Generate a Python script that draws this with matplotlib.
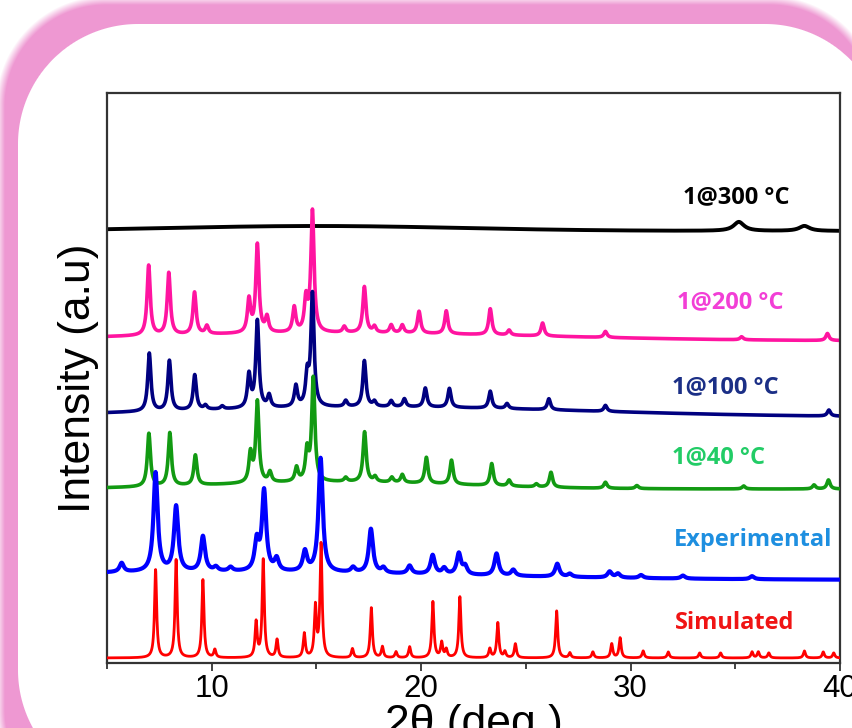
import numpy as np
import matplotlib.pyplot as plt

# 2theta range of the scans
x_min, x_max = 5, 40

# peak positions (deg) and heights above baseline (a.u.) for each pattern
sim_pos = [7.32, 8.30, 9.58, 10.15, 12.12, 12.46, 13.12, 14.42, 14.95, 15.22, 16.72, 17.62, 18.15, 18.8,
           19.45, 20.56, 20.98, 21.2, 21.85, 23.28, 23.66, 24.0, 24.5, 26.47, 27.1, 28.2, 29.1, 29.5,
           30.6, 31.8, 33.3, 34.3, 35.8, 36.1, 36.6, 38.3, 39.2, 39.7]
sim_height = [88, 98, 78, 8, 35, 98, 18, 24, 50, 113, 9, 50, 11, 6,
              11, 56, 15, 8, 61, 9, 35, 6, 14, 47, 5, 6, 14, 20,
              7, 6, 5, 5, 6, 6, 5, 7, 6, 5]

exp_pos = [5.7, 7.32, 8.30, 9.58, 10.2, 10.9, 12.15, 12.5, 13.1, 14.45, 15.2, 16.75, 17.6, 18.2,
           19.45, 20.55, 21.1, 21.8, 22.1, 23.6, 24.4, 26.5, 27.1, 29.0, 29.4, 30.5, 32.5, 35.8]
exp_height = [9, 99, 65, 35, 4, 4, 29, 80, 12, 20, 114, 5, 44, 5,
              8, 19, 6, 21, 8, 22, 6, 13, 3, 6, 4, 3, 3, 3]

t40_pos = [7.0, 8.0, 9.22, 11.85, 12.18, 12.78, 14.05, 14.55, 14.85, 16.4, 17.3, 17.8, 18.6,
           19.1, 20.25, 21.45, 23.37, 24.2, 25.5, 26.2, 28.8, 30.3, 35.4, 38.76, 39.45]
t40_height = [53, 53, 30, 29, 81, 10, 14, 30, 103, 4, 50, 5, 5,
              8, 26, 24, 22, 6, 3, 15, 6, 3, 3, 4, 9]

t100_pos = [7.02, 7.98, 9.19, 9.7, 10.5, 11.78, 12.18, 12.74, 14.02, 14.56, 14.81, 16.4, 17.29, 17.77,
            18.57, 19.2, 20.2, 21.35, 23.3, 24.1, 26.1, 28.8, 39.47]
t100_height = [58, 50, 35, 4, 3, 33, 87, 12, 21, 30, 112, 6, 46, 5,
               6, 8, 19, 19, 17, 5, 11, 6, 6]

t200_pos = [6.99, 7.95, 9.18, 9.77, 11.78, 12.18, 12.64, 13.94, 14.5, 14.81, 16.33, 17.29, 17.77,
            18.57, 19.1, 19.9, 21.2, 23.3, 24.2, 25.8, 28.8, 35.3, 39.4]
t200_height = [70, 62, 42, 8, 33, 88, 15, 25, 32, 121, 6, 46, 6,
               8, 8, 22, 23, 26, 5, 13, 6, 3, 7]

t300_pos = [35.17, 38.3]
t300_height = [9, 5]

# baseline level and broad background hump (centre, height, sigma) of each pattern
baselines = [5, 83, 174, 246, 322, 432]
hump_center = [20, 10, 16, 18, 16, 15]
hump_height = [0, 8, 7, 10, 8, 5]
hump_sigma = [5, 12, 6, 10, 10, 7]
peak_hwhm = [0.06, 0.12, 0.09, 0.09, 0.09, 0.3]

names = ["Simulated", "Experimental", "1@40 °C", "1@100 °C", "1@200 °C", "1@300 °C"]
line_colors = ["#ff0000", "#0000ff", "#129a12", "#000080", "#ff14a0", "#000000"]
text_colors = ["#f01414", "#1e8fe0", "#22cc66", "#1b2f86", "#f23fd6", "#000000"]
label_x = [32.14, 32.05, 32.0, 32.0, 32.24, 32.52]
label_y = [40, 123, 206, 276, 361, 466]
line_widths = [2.0, 3.0, 2.6, 2.6, 2.6, 2.8]
z_orders = [3.5, 4, 3, 2.5, 2, 1]

all_pos = [sim_pos, exp_pos, t40_pos, t100_pos, t200_pos, t300_pos]
all_height = [sim_height, exp_height, t40_height, t100_height, t200_height, t300_height]


def pattern(x, pos, height, hwhm, base, hc, hh, hs):
    y = np.full_like(x, float(base))
    y += hh * np.exp(-(x - hc) ** 2 / (2 * hs ** 2))
    for p, h in zip(pos, height):
        y += h / (1 + ((x - p) / hwhm) ** 2)
    return y


def rrect_sdf(xx, yy, x0, y0, x1, y1, r):
    cx, cy = (x0 + x1) / 2, (y0 + y1) / 2
    qx = np.abs(xx - cx) - ((x1 - x0) / 2 - r)
    qy = np.abs(yy - cy) - ((y1 - y0) / 2 - r)
    outside = np.hypot(np.maximum(qx, 0), np.maximum(qy, 0))
    inside = np.minimum(np.maximum(qx, qy), 0)
    return outside + inside - r


W, H = 852, 728
fig = plt.figure(figsize=(W / 100, H / 100), dpi=100)

# pink rounded frame behind the plot
bg = fig.add_axes([0, 0, 1, 1], zorder=0)
yy, xx = np.mgrid[0:H, 0:W] + 0.5
d_out = rrect_sdf(xx, yy, -4, -4, 880, 820, 110)
d_in = rrect_sdf(xx, yy, 18, 24, 885, 790, 120)
a_pink = np.clip(-d_out / 9, 0, 1)
a_white = np.clip(0.5 - d_in, 0, 1)
pink = np.array([238, 152, 210]) / 255
img = np.ones((H, W, 3))
img = img * (1 - a_pink[..., None]) + pink * a_pink[..., None]
img = img * (1 - a_white[..., None]) + a_white[..., None]
bg.imshow(img, extent=[0, W, H, 0], interpolation="bilinear")
bg.set_xlim(0, W)
bg.set_ylim(H, 0)
bg.axis("off")

ax = fig.add_axes([107 / W, 1 - 663 / H, 733 / W, 570 / H], zorder=1)
x = np.linspace(x_min, x_max, 3501)
for i in range(len(names)):
    y = pattern(x, all_pos[i], all_height[i], peak_hwhm[i], baselines[i],
                hump_center[i], hump_height[i], hump_sigma[i])
    ax.plot(x, y, color=line_colors[i], lw=line_widths[i], zorder=z_orders[i])
    ax.text(label_x[i], label_y[i], names[i], color=text_colors[i], fontsize=17,
            fontweight="bold", family=["Open Sans", "DejaVu Sans"], ha="left", va="center", zorder=10)

ax.set_xlim(x_min, x_max)
ax.set_ylim(0, 570)
ax.set_xticks([10, 20, 30, 40])
ax.set_xticks([5, 15, 25, 35], minor=True)
ax.set_yticks([])
ax.tick_params(axis="x", which="major", direction="out", length=6, width=1.3,
               labelsize=22.5, pad=2, color="#333333")
ax.tick_params(axis="x", which="minor", direction="out", length=4, width=1.3, color="#333333")
for s in ax.spines.values():
    s.set_color("#333333")
    s.set_linewidth(1.6)
for lab in ax.get_xticklabels():
    lab.set_family("Liberation Sans")

ax.set_xlabel("2θ (deg.)", fontsize=32, family="Liberation Sans", labelpad=0)
ax.set_ylabel("Intensity (a.u)", fontsize=32, family="Liberation Sans", labelpad=6)

fig.savefig("out.png", dpi=100)
